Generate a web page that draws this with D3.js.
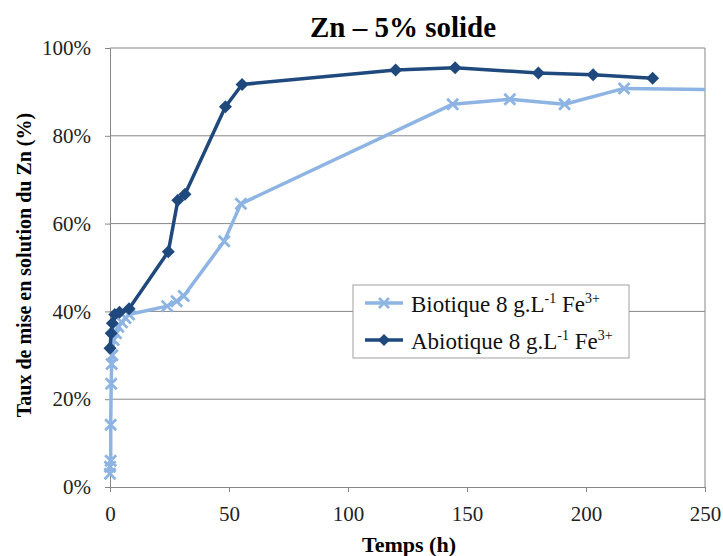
<!DOCTYPE html>
<html><head><meta charset="utf-8">
<script src="https://cdn.jsdelivr.net/npm/d3@7"></script>
<style>body{margin:0;background:#fff}svg{display:block}</style>
</head><body>
<script>
// ---- data ----
const bioTime = [0, 0, 0.3, 0.3, 0.5, 0.7, 1, 1.5, 2.5, 3.5, 5, 6.5, 8, 24, 28, 31, 48, 55, 144, 168, 191, 216, 265];
const bioVal  = [3, 4.6, 6, 14.2, 23.5, 28, 30, 33.5, 35, 36.5, 37.5, 38.5, 39.3, 41.2, 42.3, 43.5, 56, 64.5, 87.2, 88.3, 87.2, 90.8, 90.4];
const abioTime = [0, 0.5, 1, 2, 4, 8, 24.5, 28.5, 31.5, 48.5, 55.5, 120, 145, 180, 203, 228];
const abioVal  = [31.6, 35, 37.3, 39.3, 39.8, 40.6, 53.6, 65.3, 66.7, 86.6, 91.7, 95, 95.5, 94.3, 93.9, 93.1];
const xTicks = [0, 50, 100, 150, 200, 250];
const yTicks = [0, 20, 40, 60, 80, 100];
const title = "Zn – 5% solide";
const xTitle = "Temps (h)";
const yTitle = "Taux de mise en solution du Zn (%)";
const seriesNames = ["Biotique 8 g.L", "Abiotique 8 g.L"];

const W = 723, H = 556;
const L = 110, R = 705, T = 48, B = 487;
const light = "#8db4e2", dark = "#1f497d", grid = "#878787";
const font = "'Liberation Serif','Times New Roman',serif";

const svg = d3.select("body").append("svg").attr("width", W).attr("height", H)
  .style("font-family", font);

const x = d3.scaleLinear().domain([0, 250]).range([L, R]);
const y = d3.scaleLinear().domain([0, 100]).range([B, T]);

// gridlines
svg.append("g").selectAll("line").data(yTicks.filter(d => d > 0)).join("line")
  .attr("x1", L).attr("x2", R).attr("y1", d => y(d)).attr("y2", d => y(d))
  .attr("stroke", grid).attr("stroke-width", 1);
// right border
svg.append("line").attr("x1", R).attr("x2", R).attr("y1", T).attr("y2", B)
  .attr("stroke", grid).attr("stroke-width", 1);

// axes
const yAxis = svg.append("g").attr("transform", `translate(${L},0)`)
  .call(d3.axisLeft(y).tickValues(yTicks).tickFormat(d => d + "%").tickSize(5).tickPadding(14));
const xAxis = svg.append("g").attr("transform", `translate(0,${B})`)
  .call(d3.axisBottom(x).tickValues(xTicks).tickFormat(d3.format("d")).tickSize(5).tickPadding(14));
[yAxis, xAxis].forEach(a => {
  a.select(".domain").attr("stroke", grid).attr("stroke-width", 1);
  a.selectAll(".tick line").attr("stroke", grid);
  a.selectAll("text").attr("fill", "#222").style("font-family", font).style("font-size", "21px");
});

const clipR = svg.append("clipPath").attr("id", "clipR").append("rect")
  .attr("x", 0).attr("y", 0).attr("width", R).attr("height", H);

const line = d3.line().x(d => x(d[0])).y(d => y(d[1]));
const bio = bioTime.map((t, i) => [t, bioVal[i]]);
const abio = abioTime.map((t, i) => [t, abioVal[i]]);

const gS = svg.append("g").attr("clip-path", "url(#clipR)");
const xMark = (g, cx, cy, s) => g.append("path")
  .attr("d", `M${cx - s},${cy - s}L${cx + s},${cy + s}M${cx - s},${cy + s}L${cx + s},${cy - s}`)
  .attr("stroke", light).attr("stroke-width", 2.8).attr("fill", "none");
const dia = (s) => `M0,${-s}L${s},0L0,${s}L${-s},0Z`;

// biotique
gS.append("path").datum(bio).attr("d", line).attr("fill", "none")
  .attr("stroke", light).attr("stroke-width", 3.5).attr("stroke-linejoin", "round");
bio.forEach(d => xMark(gS, x(d[0]), y(d[1]), 5.5));

// abiotique
gS.append("path").datum(abio).attr("d", line).attr("fill", "none")
  .attr("stroke", dark).attr("stroke-width", 3.5).attr("stroke-linejoin", "round");
gS.selectAll(".dia").data(abio).join("path").attr("class", "dia")
  .attr("d", dia(6.5)).attr("transform", d => `translate(${x(d[0])},${y(d[1])})`)
  .attr("fill", dark);

// titles
svg.append("text").attr("x", 403).attr("y", 37).attr("text-anchor", "middle")
  .style("font-size", "29px").style("font-weight", "bold").attr("fill", "#000").text(title);
svg.append("text").attr("x", 409).attr("y", 552).attr("text-anchor", "middle")
  .style("font-size", "22px").style("font-weight", "bold").attr("fill", "#000").text(xTitle);
svg.append("text").attr("transform", `translate(31,265) rotate(-90)`)
  .attr("text-anchor", "middle")
  .style("font-size", "20px").style("font-weight", "bold").attr("fill", "#000").text(yTitle);

// legend
const lg = svg.append("g");
lg.append("rect").attr("x", 353).attr("y", 285).attr("width", 276).attr("height", 73)
  .attr("fill", "#fff").attr("stroke", "#a0a0a0").attr("stroke-width", 1);
const entries = [{name: seriesNames[0], c: light, m: "x", yy: 303}, {name: seriesNames[1], c: dark, m: "d", yy: 340}];
entries.forEach(e => {
  lg.append("line").attr("x1", 365).attr("x2", 403).attr("y1", e.yy).attr("y2", e.yy)
    .attr("stroke", e.c).attr("stroke-width", 3.5);
  if (e.m === "x") xMark(lg, 384, e.yy, 5);
  else lg.append("path").attr("d", dia(6)).attr("transform", `translate(384,${e.yy})`).attr("fill", dark);
  const t = lg.append("text").attr("x", 411).attr("y", e.yy + 8.5).style("font-size", "23px").attr("fill", "#111");
  t.append("tspan").text(e.name);
  t.append("tspan").attr("dy", -9).style("font-size", "14px").text("-1");
  t.append("tspan").attr("dy", 9).text(" Fe");
  t.append("tspan").attr("dy", -9).style("font-size", "14px").text("3+");
});
</script>
</body></html>
